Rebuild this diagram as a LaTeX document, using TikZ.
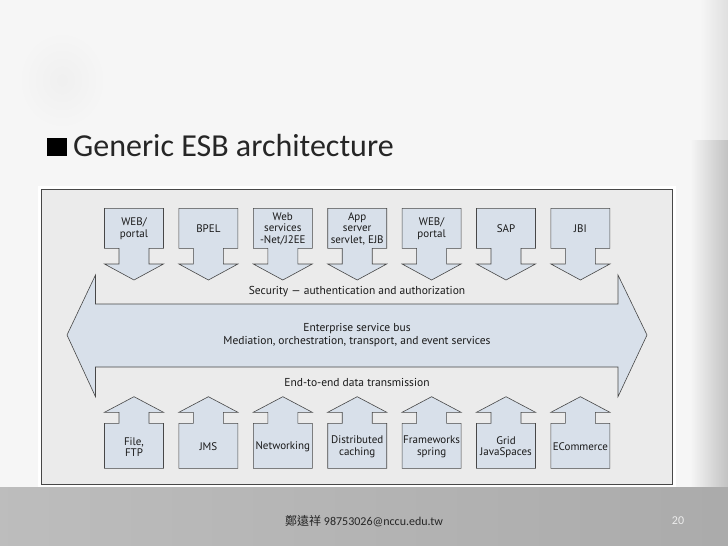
\documentclass[tikz,border=0pt]{standalone}
\usepackage{fontspec}
\setmainfont{PT Sans}
\newfontfamily\slidefont{Carlito}
\newfontfamily\cjkfont{Noto Sans CJK TC}

\definecolor{panelgray}{HTML}{EBEBEB}
\definecolor{arrowblue}{HTML}{D8E0EA}
\definecolor{edgegray}{HTML}{474747}

\tikzset{
  blockarrow/.style={draw=edgegray, fill=arrowblue, line width=0.6pt, line join=miter},
  arrowtext/.style={font=\fontsize{11}{11.5}\selectfont, align=center, text=black!90, inner sep=0pt},
  bandtext/.style={font=\fontsize{11.5}{13}\selectfont, align=center, text=black!90, inner sep=0pt},
}

\begin{document}
\begin{tikzpicture}[x=1pt, y=-1pt]
        \useasboundingbox (0,0) rectangle (728,546);

        % Slide background
        \fill[gray!7] (0,0) rectangle (728,546);
        \shade[inner color=gray!12, outer color=gray!7] (62,80) ellipse (45 and 50);
        \shade[left color=gray!7, right color=gray!25] (700,0) rectangle (728,140);
        \shade[left color=gray!7, right color=gray!48] (690,140) rectangle (728,487);
        \shade[left color=gray!52, middle color=gray!30, right color=gray!66] (0,487) rectangle (728,546);

        % Diagram frame
        \fill[white] (38,186) rectangle (676,487);
        \draw[draw=edgegray, fill=panelgray, line width=0.6pt] (41,189.5) rectangle (672.5,484);

        % Bus arrow
        \draw[blockarrow] (67,335) -- (95.5,275) -- (95.5,304) -- (618,304) -- (618,275)
              -- (647,335) -- (618,396.7) -- (618,367) -- (95.5,367) -- (95.5,396.7) -- cycle;

        % Top arrows
        \foreach \lbl [count=\i] in {{WEB/\\portal},{BPEL},{Web\\services\\-Net/J2EE},{App\\server\\servlet, EJB},{WEB/\\portal},{SAP},{JBI}} {
            \pgfmathsetmacro\lx{104.5+74.4*(\i-1)}
            \draw[blockarrow] (\lx,208.3) -- ++(59,0) -- ++(0,40) -- ++(-14.5,0) -- ++(0,15.7) -- ++(14.5,0)
                  -- ++(-29.5,16) -- ++(-29.5,-16) -- ++(14.5,0) -- ++(0,-15.7) -- ++(-14.5,0) -- cycle;
            \node[arrowtext] (top\i) at (\lx+29.5,228.8) {\lbl};
        }

        % Bottom arrows
        \foreach \lbl [count=\i] in {{File,\\FTP},{JMS},{Networking},{Distributed\\caching},{Frameworks\\spring},{Grid\\JavaSpaces},{ECommerce}} {
            \pgfmathsetmacro\lx{104.5+74.4*(\i-1)}
            \draw[blockarrow] (\lx,468.3) -- ++(59,0) -- ++(0,-45) -- ++(-14.5,0) -- ++(0,-11) -- ++(14.5,0)
                  -- ++(-29.5,-15.6) -- ++(-29.5,15.6) -- ++(14.5,0) -- ++(0,11) -- ++(-14.5,0) -- cycle;
            \node[arrowtext] (bot\i) at (\lx+29.5,447) {\lbl};
        }

        % Labels
        \node[bandtext] (security) at (357,291.5) {Security --- authentication and authorization};
        \node[bandtext] (esb) at (357,335) {Enterprise service bus\\Mediation, orchestration, transport, and event services};
        \node[bandtext] (transport) at (357,382) {End-to-end data transmission};

        % Title and footer
        \fill[black] (47,138) rectangle (67,156);
        \node[anchor=base west, inner sep=0pt, font=\slidefont\fontsize{32}{36}\selectfont, text=black!85] (title) at (73,156) {Generic ESB architecture};
        \node[anchor=west, inner sep=0pt, font=\slidefont\fontsize{12}{14}\selectfont, text=black!85] (footer) at (285,521) {{\cjkfont 鄭遠祥} 98753026@nccu.edu.tw};
        \node[inner sep=0pt, font=\slidefont\fontsize{12}{14}\selectfont, text=white!85!gray] (pagenum) at (678,520.5) {20};

    \end{tikzpicture}
\end{document}
